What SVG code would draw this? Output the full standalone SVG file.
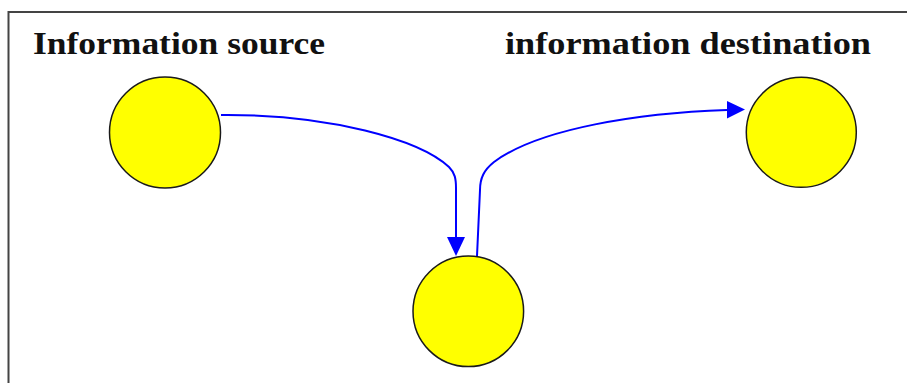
<svg xmlns="http://www.w3.org/2000/svg" width="907" height="383" viewBox="0 0 907 383">
<style>
.node{fill:#ffff00;stroke:#1a1a1a;stroke-width:1.5}
.lbl{font-family:"Liberation Serif","Times New Roman",serif;font-weight:bold;font-size:32px;fill:#111}
.edge{fill:none;stroke:#0000ff;stroke-width:2}
.head{fill:#0000ff}
</style>
<rect width="907" height="383" fill="#fff"/>
<path d="M8.5,383 V12 H907" fill="none" stroke="#444" stroke-width="2"/>
<text class="lbl" x="33" y="54" textLength="292" lengthAdjust="spacingAndGlyphs">Information source</text>
<text class="lbl" x="505" y="54" textLength="366" lengthAdjust="spacingAndGlyphs">information destination</text>
<g id="source"><circle class="node" cx="165" cy="132.5" r="55.5"/></g>
<g id="destination"><circle class="node" cx="801.3" cy="132.3" r="55"/></g>
<g id="relay"><circle class="node" cx="468.3" cy="311.3" r="55.3"/></g>
<g id="connectors">
<path class="edge" d="M221,115 C330,114 420,140 449,167 C455,173 456,179 456,188 L456,238"/>
<polygon class="head" points="447,237 465,237 456,256"/>
<path class="edge" d="M477,256 L480,190 C480,178 484,170 494,162 C540,128 640,113 727,110"/>
<polygon class="head" points="727,101 727,118.5 745,109.5"/>
</g>
</svg>
